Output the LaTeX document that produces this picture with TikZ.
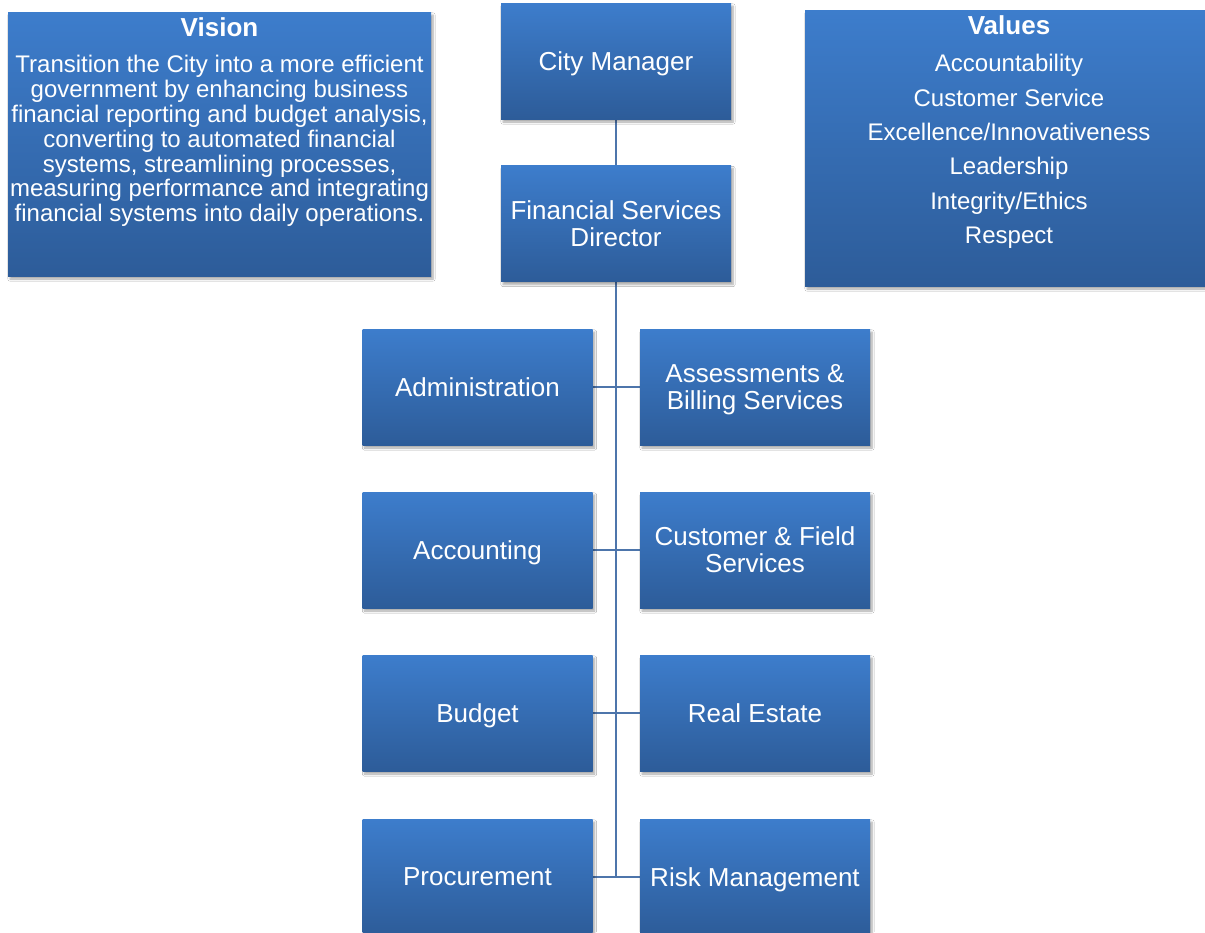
\documentclass[tikz,border=0pt]{standalone}
\usepackage{fontspec}
\setmainfont{Liberation Sans}
\usetikzlibrary{shadows.blur}
\definecolor{boxtop}{HTML}{3D7DCC}
\definecolor{boxbot}{HTML}{2D5C99}
\definecolor{linecol}{HTML}{4D75AB}
\tikzset{
  orgbox/.style={rectangle, minimum width=230pt, minimum height=116pt, inner sep=0pt,
    top color=boxtop, bottom color=boxbot, draw=none, text=white, align=center,
    text depth=0pt,
    font=\fontsize{26}{27}\selectfont,
    blur shadow={shadow xshift=2pt, shadow yshift=-3pt, shadow blur steps=6, shadow opacity=35}},
  bigbox/.style={orgbox, font=\fontsize{24}{25}\selectfont},
  txt/.style={text=white, align=center, inner sep=0pt},
  conn/.style={draw=linecol, line width=2pt}
}
\begin{document}
\begin{tikzpicture}[x=1pt,y=-1pt]
\useasboundingbox (0,0) rectangle (1205,932);
\clip (0,0) rectangle (1205,932);
\fill[white] (0,0) rectangle (1205,932);
% connectors (drawn first)
\coordinate (fsdb) at (616,281);
\coordinate (trunkend) at (616,877);
\draw[conn] (616,119) -- (616,166);
\draw[conn] (fsdb) -- (trunkend);
\draw[conn] (593,387) -- (640,387);
\draw[conn] (593,550) -- (640,550);
\draw[conn] (593,713) -- (640,713);
\draw[conn] (593,877) -- (640,877);
% top boxes
\node[bigbox, minimum width=423pt, minimum height=264pt] (vision) at (219.5,144) {};
\node[txt, font=\fontsize{26}{27}\selectfont\bfseries] (visiont) at (219.5,27) {Vision};
\node[txt, font=\fontsize{24}{24.8}\selectfont] (visionb) at (219.5,141) {Transition the City into a more efficient\\government by enhancing business\\financial reporting and budget analysis,\\converting to automated financial\\systems, streamlining processes,\\measuring performance and integrating\\financial systems into daily operations.};
\node[bigbox, minimum width=408pt, minimum height=276pt] (values) at (1009,148) {};
\node[txt, font=\fontsize{26}{27}\selectfont\bfseries] (valuest) at (1009,25) {Values};
\node[txt, font=\fontsize{24}{34.4}\selectfont] (valuesb) at (1009,151.5) {Accountability\\Customer Service\\Excellence/Innovativeness\\Leadership\\Integrity/Ethics\\Respect};
\node[orgbox] (cm) at (616,61) {City Manager};
\node[orgbox] (fsd) at (616,223.5) {Financial Services\\Director};
% department boxes
\node[orgbox] (adm) at (477.5,387) {Administration};
\node[orgbox] (ass) at (755,387) {Assessments \&\\Billing Services};
\node[orgbox] (acc) at (477.5,550) {Accounting};
\node[orgbox] (cfs) at (755,550) {Customer \& Field\\Services};
\node[orgbox] (bud) at (477.5,713) {Budget};
\node[orgbox] (re) at (755,713) {Real Estate};
\node[orgbox] (proc) at (477.5,877) {Procurement};
\node[orgbox] (risk) at (755,877) {Risk Management};
\end{tikzpicture}
\end{document}
